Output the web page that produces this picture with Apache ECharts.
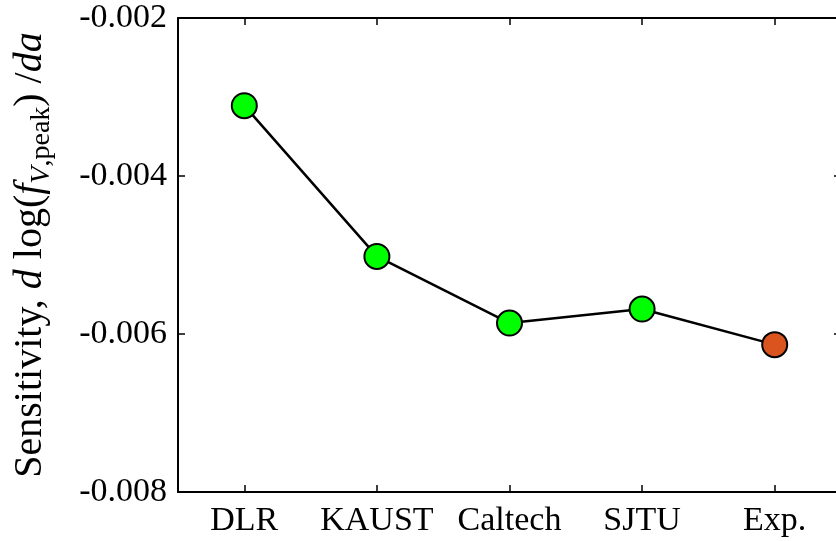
<!DOCTYPE html>
<html>
<head>
<meta charset="utf-8">
<script src="https://cdn.jsdelivr.net/npm/echarts@6/dist/echarts.min.js"></script>
<style>
html,body{margin:0;padding:0;background:#fff;}
#chart{width:836px;height:541px;}
</style>
</head>
<body>
<div id="chart"></div>
<script>
const categories = ['DLR', 'KAUST', 'Caltech', 'SJTU', 'Exp.'];
const sensitivity = [-0.003110, -0.005018, -0.005861, -0.005684, -0.006135];
const yTicks = [-0.008, -0.006, -0.004, -0.002];
const experimentName = 'Exp.';

const FONT = '"Liberation Serif", "DejaVu Serif", serif';
const BLACK = '#000';
const lineStyle = {color: BLACK, width: 2};
const tickStyle = {show: true, inside: true, length: 7, lineStyle: {color: BLACK, width: 1.5}};

const chart = echarts.init(document.getElementById('chart'), null, {renderer: 'canvas'});
chart.setOption({
  animation: false,
  backgroundColor: '#fff',
  grid: {left: 178, top: 18, width: 663, height: 474, containLabel: false, outerBoundsMode: 'none'},
  xAxis: [{
    type: 'category',
    data: categories,
    boundaryGap: true,
    axisLine: {lineStyle: lineStyle},
    axisTick: Object.assign({alignWithLabel: true, interval: 0}, tickStyle),
    axisLabel: {color: BLACK, fontFamily: FONT, fontSize: 34, margin: 12, interval: 0, hideOverlap: false},
    splitLine: {show: false}
  }, {
    type: 'category',
    position: 'top',
    data: categories,
    boundaryGap: true,
    axisLine: {lineStyle: lineStyle},
    axisTick: Object.assign({alignWithLabel: true, interval: 0}, tickStyle),
    axisLabel: {show: false},
    splitLine: {show: false}
  }],
  yAxis: [{
    type: 'value',
    min: yTicks[0],
    max: yTicks[yTicks.length - 1],
    interval: 0.002,
    axisLine: {show: true, lineStyle: lineStyle},
    axisTick: tickStyle,
    splitLine: {show: false},
    axisLabel: {
      color: BLACK, fontFamily: FONT, fontSize: 34, margin: 11,
      formatter: v => v.toFixed(3)
    },
    name: '{n|Sensitivity, }{i|d}{n| log(}{i|f}{si|V}{s|,peak}{n|) /}{i|da}',
    nameLocation: 'middle',
    nameGap: 122,
    nameRotate: 90,
    nameTextStyle: {
      fontFamily: FONT, fontSize: 40, color: BLACK, lineHeight: 52,
      rich: {
        n: {fontFamily: FONT, fontSize: 40, color: BLACK, lineHeight: 52},
        i: {fontFamily: FONT, fontSize: 40, fontStyle: 'italic', color: BLACK, lineHeight: 52},
        si: {fontFamily: FONT, fontSize: 28, fontStyle: 'italic', color: BLACK, verticalAlign: 'bottom', lineHeight: 28},
        s: {fontFamily: FONT, fontSize: 28, color: BLACK, verticalAlign: 'bottom', lineHeight: 28}
      }
    }
  }, {
    type: 'value',
    position: 'right',
    min: yTicks[0],
    max: yTicks[yTicks.length - 1],
    interval: 0.002,
    axisLine: {show: true, lineStyle: lineStyle},
    axisTick: tickStyle,
    splitLine: {show: false},
    axisLabel: {show: false}
  }],
  series: [{
    type: 'line',
    data: sensitivity,
    xAxisIndex: 0,
    yAxisIndex: 0,
    symbol: 'circle',
    symbolSize: 25,
    lineStyle: {color: BLACK, width: 2.5},
    itemStyle: {
      color: p => p.name === experimentName ? '#D9541E' : '#00FF00',
      borderColor: BLACK,
      borderWidth: 2
    },
    z: 5
  }]
});
</script>
</body>
</html>
